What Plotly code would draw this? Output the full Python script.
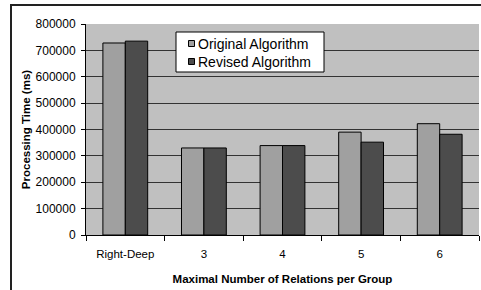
import plotly.graph_objects as go

categories = ["Right-Deep", "3", "4", "5", "6"]
original = [728000, 330000, 339000, 390000, 422000]
revised = [735000, 330000, 339000, 352000, 382000]
y_ticks = [0, 100000, 200000, 300000, 400000, 500000, 600000, 700000, 800000]
series_names = ["Original Algorithm", "Revised Algorithm"]
series_colors = ["#A0A0A0", "#4C4C4C"]

W, H = 481, 290
L, R, T, B = 86, 2, 24, 55
FONT = "Liberation Sans, Arial, sans-serif"

fig = go.Figure()
for name, vals, col in zip(series_names, [original, revised], series_colors):
    fig.add_trace(go.Bar(x=categories, y=vals, name=name, showlegend=False,
                         hoverinfo="skip",
                         marker=dict(color=col, line=dict(color="#000000", width=1))))

pw = W - L - R
ph = H - T - B

def px_x(p):
    return (p - L) / pw

def px_y(p):
    return (H - B - p) / ph

shapes = [
    dict(type="rect", xref="paper", yref="paper",
         x0=px_x(176), y0=px_y(72), x1=px_x(324), y1=px_y(32),
         line=dict(color="#000000", width=1), fillcolor="#FFFFFF", layer="above"),
]
annotations = []
for i, (name, col) in enumerate(zip(series_names, series_colors)):
    cy = 43.5 + i * 18
    shapes.append(dict(type="rect", xref="paper", yref="paper",
                       x0=px_x(188.5), x1=px_x(194.5), y0=px_y(cy + 3), y1=px_y(cy - 3),
                       fillcolor=col, line=dict(color="#000000", width=1), layer="above"))
    annotations.append(dict(text=name, xref="paper", yref="paper",
                            x=px_x(195.5), y=px_y(cy), xanchor="left", yanchor="middle",
                            showarrow=False, font=dict(size=14, family=FONT, color="#000000")))

fig.update_layout(
    width=W, height=H,
    margin=dict(l=L, r=R, t=T, b=B, pad=0, autoexpand=False),
    paper_bgcolor="#FFFFFF",
    plot_bgcolor="#C0C0C0",
    font=dict(family=FONT, size=12, color="#000000"),
    barmode="group",
    bargap=0.43,
    bargroupgap=0,
    showlegend=False,
    xaxis=dict(
        automargin=False,
        showgrid=False, showline=True, linecolor="#000000", linewidth=1,
        ticks="outside", ticklen=5, tickcolor="#000000", tickson="boundaries",
        ticklabelstandoff=8,
        title=dict(text="<b>Maximal Number of Relations per Group</b>",
                   font=dict(size=11.5), standoff=16),
        tickfont=dict(size=11.5),
    ),
    yaxis=dict(
        automargin=False,
        range=[0, 800000], tickvals=y_ticks,
        ticktext=[str(v) for v in y_ticks],
        showgrid=True, gridcolor="#333333", gridwidth=1,
        showline=True, linecolor="#000000", linewidth=1,
        ticks="outside", ticklen=4, tickcolor="#000000",
        ticklabelstandoff=3,
        zeroline=False,
        title=dict(text="<b>Processing Time (ms)</b>", font=dict(size=11.5), standoff=2),
        tickfont=dict(size=12),
    ),
    shapes=shapes,
    annotations=annotations,
)

post = (
    "document.body.style.margin='0';"
    "document.body.style.overflow='hidden';"
    "document.documentElement.style.overflow='hidden';"
    "var f=document.createElement('div');"
    "f.style.cssText='position:fixed;left:10px;top:4px;width:500px;height:320px;"
    "border-top:2px solid #222;border-left:2px solid #222;pointer-events:none;z-index:10;';"
    "document.body.appendChild(f);"
    "window.scrollTo(0,0);"
)

fig.write_html("out.html",
               config={"displayModeBar": False, "staticPlot": True},
               post_script=post)
